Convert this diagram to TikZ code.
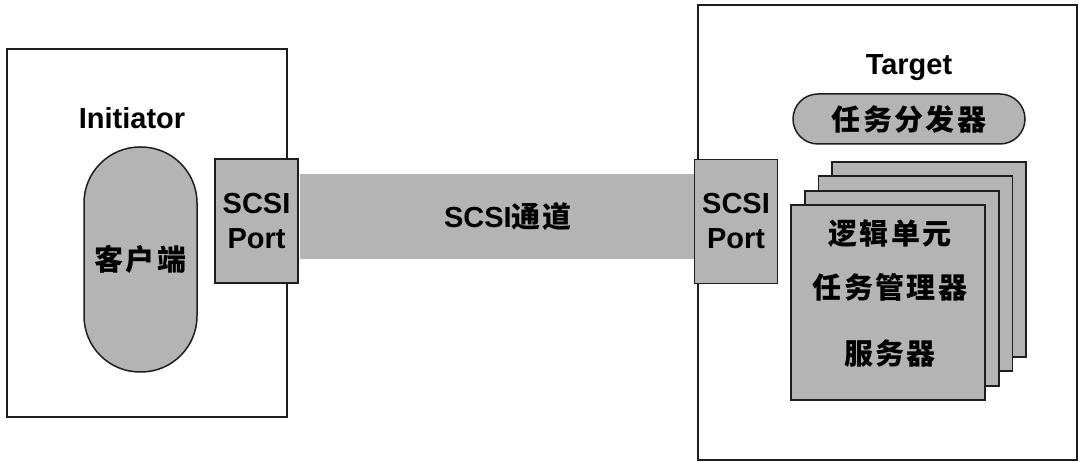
\documentclass[tikz,border=0pt]{standalone}
\usepackage{fontspec}
\setmainfont{Liberation Sans}
\newfontfamily\cjk[LetterSpace=8]{Noto Sans CJK SC}
\usetikzlibrary{positioning}

\definecolor{boxgray}{HTML}{B4B4B4}
\definecolor{linec}{HTML}{1E1E1E}

\newcommand{\lblfont}{\fontsize{29}{35}\selectfont\bfseries}
\newcommand{\zhfont}{\fontsize{29}{54}\selectfont\cjk\bfseries}

\begin{document}
\begin{tikzpicture}[
    x=1pt, y=-1pt,
    frame/.style={draw=linec, line width=1.8pt, fill=white, inner sep=0pt},
    port/.style={draw=linec, line width=1.8pt, fill=boxgray, align=center,
      minimum width=83pt, minimum height=124pt, inner sep=0pt, font=\lblfont},
    pill/.style={draw=linec, line width=1.5pt, fill=boxgray, inner sep=0pt, font=\zhfont},
    card/.style={draw=linec, line width=1.8pt, fill=boxgray, minimum width=194pt,
      minimum height=195pt, inner sep=0pt},
    title/.style={font=\lblfont}
  ]
    \useasboundingbox (0,0) rectangle (1080,462);

    % outer frames
    \node[frame, minimum width=280pt, minimum height=368pt] (initbox) at (147,233) {};
    \node[frame, minimum width=379pt, minimum height=455pt] (tgtbox) at (887.5,232.5) {};

    % initiator side
    \node[title] (init) at (132,118) {Initiator};
    \node[pill, minimum width=113pt, minimum height=225pt, rounded corners=56pt] (client) at (140.5,259.5) {客户端};

    % channel between the ports
    \node[fill=boxgray, minimum width=394pt, minimum height=85pt, inner sep=0pt] (chan) at (497,216.5) {};
    \node[font=\lblfont] (chanlbl) at (508,217) {SCSI{\zhfont 通道}};

    \node[port] (lport) at (256.5,221) {SCSI\\Port};
    \node[port] (rport) at (736,221.5) {SCSI\\Port};

    % target side
    \node[title] (tgt) at (909,68) {Target};
    \node[pill, minimum width=232pt, minimum height=50pt, rounded corners=25pt] (disp) at (909,119) {任务分发器};

    % stacked logical units, back to front
    \foreach \i in {3,2,1,0}
      \node[card] (card\i) at ({888+13.7*\i},{302.5-14.3*\i}) {};
    \node[align=center, inner sep=0pt, font=\zhfont] (cardtxt) at (890,293) {逻辑单元\\任务管理器\\[12pt]服务器};
  \end{tikzpicture}
\end{document}
